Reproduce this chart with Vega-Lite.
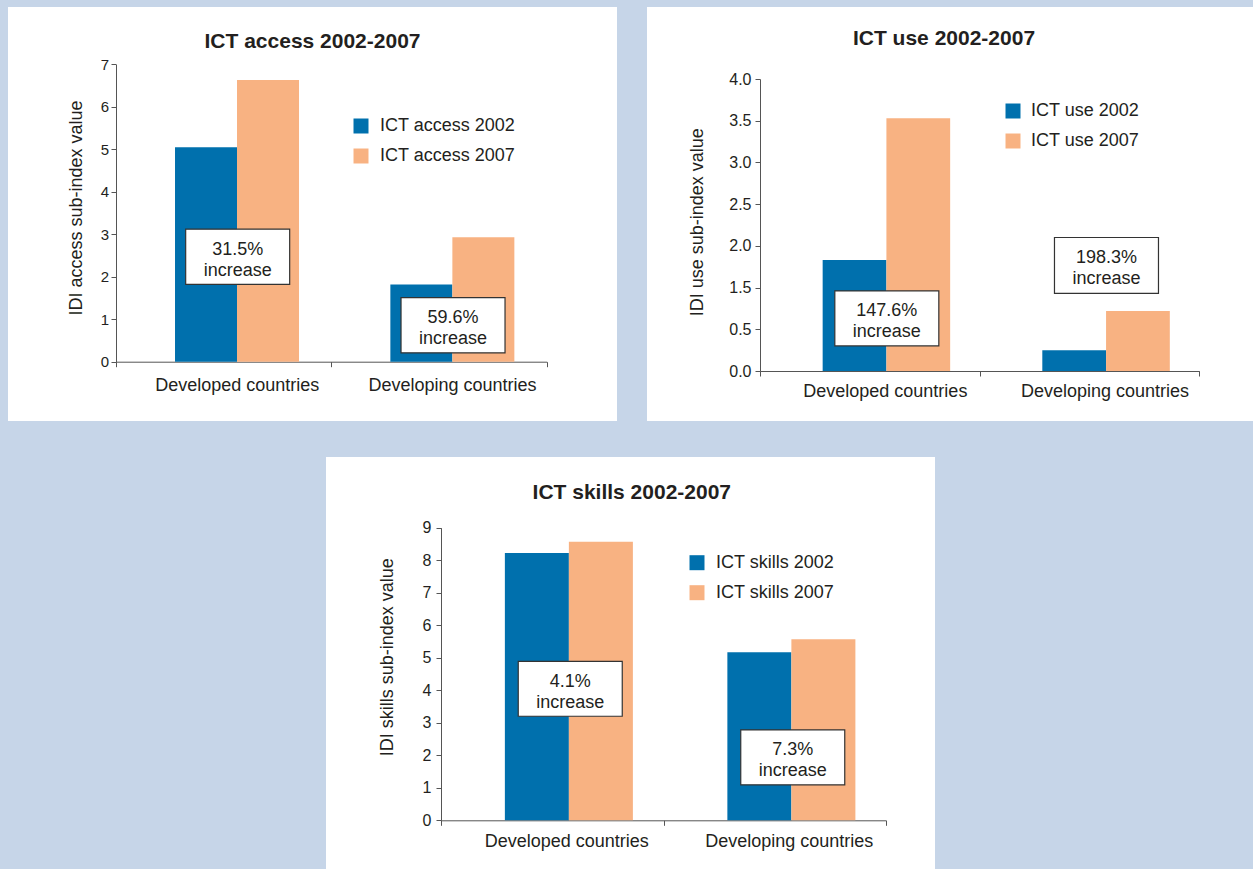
{
  "$schema": "https://vega.github.io/schema/vega-lite/v6.json",
  "background": "#c6d5e8",
  "padding": {"left": 8, "top": 7, "right": 0, "bottom": 0},
  "config": {
    "font": "Liberation Sans",
    "view": {"fill": "white", "stroke": null},
    "axis": {"grid": false, "domainColor": "#555555", "tickColor": "#555555", "labelColor": "#231f20", "titleColor": "#231f20", "titleFontWeight": "normal", "tickSize": 5, "domainWidth": 1, "tickWidth": 1},
    "legend": {"title": null, "orient": "none", "symbolType": "square", "symbolSize": 225, "symbolStrokeWidth": 0, "labelFontSize": 18, "labelColor": "#231f20", "labelOffset": 10, "rowPadding": 12, "padding": 0, "offset": 0},
    "title": {"fontSize": 21, "fontWeight": "bold", "color": "#231f20", "anchor": "middle", "frame": "group", "baseline": "alphabetic"}
  },
  "datasets": {
    "access": [
      {"group": "Developed countries", "series": "ICT access 2002", "value": 5.05},
      {"group": "Developed countries", "series": "ICT access 2007", "value": 6.63},
      {"group": "Developing countries", "series": "ICT access 2002", "value": 1.82},
      {"group": "Developing countries", "series": "ICT access 2007", "value": 2.93}
    ],
    "access_notes": [
      {"group": "Developed countries", "label": "31.5%\nincrease", "lo": 1.82, "hi": 3.12, "mid": 2.51},
      {"group": "Developing countries", "label": "59.6%\nincrease", "lo": 0.21, "hi": 1.51, "mid": 0.90}
    ],
    "use": [
      {"group": "Developed countries", "series": "ICT use 2002", "value": 1.33},
      {"group": "Developed countries", "series": "ICT use 2007", "value": 3.03},
      {"group": "Developing countries", "series": "ICT use 2002", "value": 0.25},
      {"group": "Developing countries", "series": "ICT use 2007", "value": 0.72}
    ],
    "use_notes": [
      {"group": "Developed countries", "label": "147.6%\nincrease", "lo": 0.30, "hi": 0.96, "mid": 0.66},
      {"group": "Developing countries", "label": "198.3%\nincrease", "lo": 0.93, "hi": 1.60, "mid": 1.29}
    ],
    "skills": [
      {"group": "Developed countries", "series": "ICT skills 2002", "value": 8.22},
      {"group": "Developed countries", "series": "ICT skills 2007", "value": 8.57},
      {"group": "Developing countries", "series": "ICT skills 2002", "value": 5.17},
      {"group": "Developing countries", "series": "ICT skills 2007", "value": 5.57}
    ],
    "skills_notes": [
      {"group": "Developed countries", "label": "4.1%\nincrease", "lo": 3.20, "hi": 4.89, "mid": 4.09},
      {"group": "Developing countries", "label": "7.3%\nincrease", "lo": 1.09, "hi": 2.78, "mid": 2.01}
    ]
  },
  "vconcat": [
    {
      "hconcat": [
        {
          "width": 609, "height": 414,
          "title": {"text": "ICT access 2002-2007", "offset": -45.3},
          "layer": [
            {
              "data": {"name": "access"},
              "mark": {"type": "bar"},
              "encoding": {
                "x": {"field": "group", "type": "nominal", "sort": null,
                  "scale": {"range": [108, 538.7], "paddingInner": 0, "paddingOuter": 0},
                  "axis": {"title": null, "labelAngle": 0, "offset": -59.3, "tickBand": "extent", "labelPadding": 9.7, "labelOffset": 13, "labelFontSize": 18}},
                "xOffset": {"field": "series", "type": "nominal", "sort": null, "scale": {"paddingInner": 0, "paddingOuter": 0.7367, "align": 0.646}},
                "y": {"field": "value", "type": "quantitative",
                  "scale": {"domain": [0, 7], "range": [354.7, 57.3], "nice": false},
                  "axis": {"title": "IDI access sub-index value", "values": [0, 1, 2, 3, 4, 5, 6, 7], "format": "d", "offset": -108, "labelPadding": 2.5, "labelFontSize": 15, "titleFontSize": 18, "titleX": -40, "titleY": 200.5, "titleAngle": -90, "titleAlign": "center", "titleBaseline": "middle"}},
                "color": {"field": "series", "type": "nominal",
                  "scale": {"domain": ["ICT access 2002", "ICT access 2007"], "range": ["#0070ad", "#f8b282"]},
                  "legend": {"legendX": 344, "legendY": 110}}
              }
            },
            {
              "data": {"name": "access_notes"},
              "mark": {"type": "bar", "width": 104, "xOffset": 14, "fill": "white", "stroke": "#333333", "strokeWidth": 1.2},
              "encoding": {
                "x": {"field": "group", "type": "nominal", "sort": null},
                "y": {"field": "lo", "type": "quantitative"},
                "y2": {"field": "hi"}
              }
            },
            {
              "data": {"name": "access_notes"},
              "mark": {"type": "text", "lineBreak": "\n", "fontSize": 18, "lineHeight": 21, "xOffset": 14, "baseline": "alphabetic", "align": "center", "color": "#231f20"},
              "encoding": {
                "x": {"field": "group", "type": "nominal", "sort": null},
                "y": {"field": "mid", "type": "quantitative"},
                "text": {"field": "label"}
              }
            }
          ]
        },
        {
          "width": 606, "height": 414,
          "title": {"text": "ICT use 2002-2007", "offset": -42.3, "dx": -6},
          "layer": [
            {
              "data": {"name": "use"},
              "mark": {"type": "bar"},
              "encoding": {
                "x": {"field": "group", "type": "nominal", "sort": null,
                  "scale": {"range": [113, 552.3], "paddingInner": 0, "paddingOuter": 0},
                  "axis": {"title": null, "labelAngle": 0, "offset": -50, "tickBand": "extent", "labelPadding": 6, "labelOffset": 15, "labelFontSize": 18}},
                "xOffset": {"field": "series", "type": "nominal", "sort": null, "scale": {"paddingInner": 0, "paddingOuter": 0.7227, "align": 0.68}},
                "y": {"field": "value", "type": "quantitative",
                  "scale": {"domain": [0, 3.5], "range": [364, 72], "nice": false},
                  "axis": {"title": "IDI use sub-index value", "values": [0, 0.5, 1, 1.5, 2, 2.5, 3, 3.5], "labelExpr": "datum.value >= 1 ? format(datum.value + 0.5, '.1f') : format(datum.value, '.1f')", "offset": -113, "labelPadding": 4, "labelFontSize": 16, "titleFontSize": 18, "titleX": -63, "titleY": 214.7, "titleAngle": -90, "titleAlign": "center", "titleBaseline": "middle"}},
                "color": {"field": "series", "type": "nominal",
                  "scale": {"domain": ["ICT use 2002", "ICT use 2007"], "range": ["#0070ad", "#f8b282"]},
                  "legend": {"legendX": 357, "legendY": 95, "labelOffset": 9}}
              }
            },
            {
              "data": {"name": "use_notes"},
              "mark": {"type": "bar", "width": 104, "xOffset": 17, "fill": "white", "stroke": "#333333", "strokeWidth": 1.2},
              "encoding": {
                "x": {"field": "group", "type": "nominal", "sort": null},
                "y": {"field": "lo", "type": "quantitative"},
                "y2": {"field": "hi"}
              }
            },
            {
              "data": {"name": "use_notes"},
              "mark": {"type": "text", "lineBreak": "\n", "fontSize": 18, "lineHeight": 21, "xOffset": 17, "baseline": "alphabetic", "align": "center", "color": "#231f20"},
              "encoding": {
                "x": {"field": "group", "type": "nominal", "sort": null},
                "y": {"field": "mid", "type": "quantitative"},
                "text": {"field": "label"}
              }
            }
          ]
        }
      ],
      "spacing": 30,
      "resolve": {"scale": {"color": "independent", "x": "independent", "y": "independent", "xOffset": "independent"}, "legend": {"color": "independent"}}
    },
    {
      "width": 609, "height": 412,
      "title": {"text": "ICT skills 2002-2007", "offset": -45.7, "dx": 1.3},
      "layer": [
        {
          "data": {"name": "skills"},
          "mark": {"type": "bar"},
          "encoding": {
            "x": {"field": "group", "type": "nominal", "sort": null,
              "scale": {"range": [115, 560], "paddingInner": 0, "paddingOuter": 0},
              "axis": {"title": null, "labelAngle": 0, "offset": -48.7, "tickBand": "extent", "labelPadding": 6.7, "labelOffset": 14, "labelFontSize": 18}},
            "xOffset": {"field": "series", "type": "nominal", "sort": null, "scale": {"paddingInner": 0, "paddingOuter": 0.738, "align": 0.676}},
            "y": {"field": "value", "type": "quantitative",
              "scale": {"domain": [0, 9], "range": [363.3, 70.7], "nice": false},
              "axis": {"title": "IDI skills sub-index value", "values": [0, 1, 2, 3, 4, 5, 6, 7, 8, 9], "format": "d", "offset": -115, "labelPadding": 5, "labelFontSize": 16, "titleFontSize": 18, "titleX": -53.3, "titleY": 199.7, "titleAngle": -90, "titleAlign": "center", "titleBaseline": "middle"}},
            "color": {"field": "series", "type": "nominal",
              "scale": {"domain": ["ICT skills 2002", "ICT skills 2007"], "range": ["#0070ad", "#f8b282"]},
              "legend": {"legendX": 362, "legendY": 96.7}}
          }
        },
        {
          "data": {"name": "skills_notes"},
          "mark": {"type": "bar", "width": 104, "xOffset": 18, "fill": "white", "stroke": "#333333", "strokeWidth": 1.2},
          "encoding": {
            "x": {"field": "group", "type": "nominal", "sort": null},
            "y": {"field": "lo", "type": "quantitative"},
            "y2": {"field": "hi"}
          }
        },
        {
          "data": {"name": "skills_notes"},
          "mark": {"type": "text", "lineBreak": "\n", "fontSize": 18, "lineHeight": 21, "xOffset": 18, "baseline": "alphabetic", "align": "center", "color": "#231f20"},
          "encoding": {
            "x": {"field": "group", "type": "nominal", "sort": null},
            "y": {"field": "mid", "type": "quantitative"},
            "text": {"field": "label"}
          }
        }
      ]
    }
  ],
  "spacing": 36,
  "center": true,
  "resolve": {"scale": {"color": "independent", "x": "independent", "y": "independent", "xOffset": "independent"}, "legend": {"color": "independent"}}
}
